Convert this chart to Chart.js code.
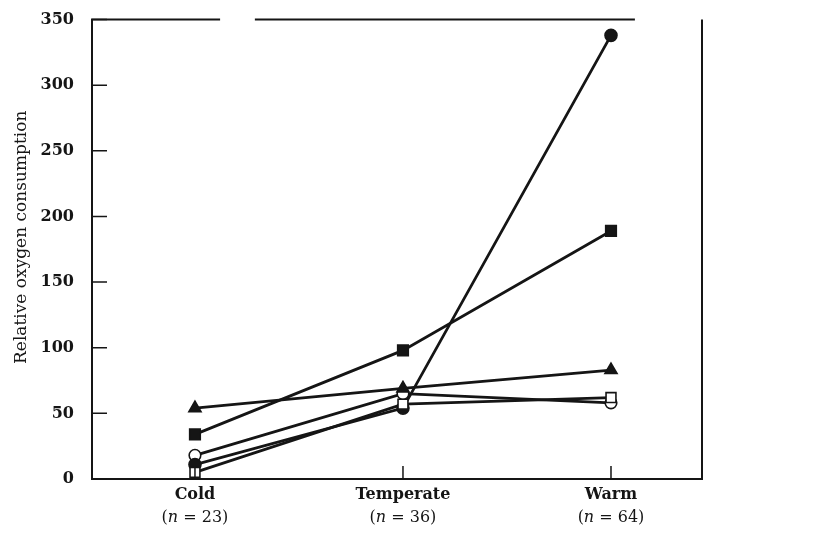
<!DOCTYPE html>
<html>
<head>
<meta charset="utf-8">
<script src="https://cdn.jsdelivr.net/npm/chart.js@4.4.1/dist/chart.umd.min.js"></script>
<style>
  html, body { margin: 0; padding: 0; background: #fff; }
  #wrap { width: 833px; height: 535px; }
</style>
</head>
<body>
<div id="wrap"><canvas id="myChart" width="833" height="535"></canvas></div>
<script>
const categories = ["Cold", "Temperate", "Warm"];
const sampleSizes = [23, 36, 64];
const yTicks = [0, 50, 100, 150, 200, 250, 300, 350];
const yTitle = "Relative oxygen consumption";

// one array per marker type, values read at Cold / Temperate / Warm
const triangleValues = [54, 69, 83];
const squareValues = [34, 98, 189];
const openCircleValues = [18, 65, 58];
const circleValues = [11, 54, 338];
const openSquareValues = [5, 57, 62];

const serif = "'DejaVu Serif', serif";
const ink = "#151515";

function toPoints(values) {
  return values.map((v, i) => ({ x: i, y: v }));
}

function series(values, style, filled, radius) {
  return {
    data: toPoints(values),
    borderColor: ink,
    borderWidth: 2.8,
    pointStyle: style,
    pointRadius: radius,
    pointBackgroundColor: filled ? ink : "#fff",
    pointBorderColor: ink,
    pointBorderWidth: 1.6,
    tension: 0,
  };
}

// frame, inward ticks, category labels and axis title
const framePlugin = {
  id: "frame",
  afterDraw(chart) {
    const { ctx, chartArea: a, scales } = chart;
    const w = a.right - a.left;
    ctx.save();
    ctx.strokeStyle = ink;
    ctx.lineWidth = 2;
    ctx.beginPath();
    ctx.moveTo(a.right, a.top);
    ctx.lineTo(a.right, a.bottom);
    ctx.lineTo(a.left, a.bottom);
    ctx.lineTo(a.left, a.top);
    // the top edge is broken in the printed figure
    ctx.lineTo(a.left + w * 0.21, a.top);
    ctx.moveTo(a.left + w * 0.267, a.top);
    ctx.lineTo(a.left + w * 0.89, a.top);
    ctx.stroke();

    ctx.lineWidth = 1.5;
    ctx.beginPath();
    yTicks.forEach((v) => {
      const y = scales.y.getPixelForValue(v);
      ctx.moveTo(a.left, y);
      ctx.lineTo(a.left + 15, y);
    });
    categories.forEach((c, i) => {
      const x = scales.x.getPixelForValue(i);
      ctx.moveTo(x, a.bottom);
      ctx.lineTo(x, a.bottom - 13);
    });
    ctx.stroke();

    ctx.fillStyle = ink;
    ctx.textBaseline = "middle";
    categories.forEach((c, i) => {
      const x = scales.x.getPixelForValue(i);
      ctx.textAlign = "center";
      ctx.font = "bold 16px " + serif;
      ctx.fillText(c, x, a.bottom + 16);

      // "(n = 23)" with an italic n
      const parts = [
        ["(", "16px " + serif],
        ["n", "italic 16px " + serif],
        [" = " + sampleSizes[i] + ")", "16px " + serif],
      ];
      let total = 0;
      parts.forEach((p) => {
        ctx.font = p[1];
        total += ctx.measureText(p[0]).width;
      });
      let cx = x - total / 2;
      ctx.textAlign = "left";
      parts.forEach((p) => {
        ctx.font = p[1];
        ctx.fillText(p[0], cx, a.bottom + 39);
        cx += ctx.measureText(p[0]).width;
      });
    });

    ctx.translate(22, (a.top + a.bottom) / 2 - 12);
    ctx.rotate(-Math.PI / 2);
    ctx.textAlign = "center";
    ctx.font = "17px " + serif;
    ctx.fillText(yTitle, 0, 0);
    ctx.restore();
  },
};

new Chart("myChart", {
  type: "line",
  data: {
    datasets: [
      series(triangleValues, "triangle", true, 7),
      series(squareValues, "rect", true, 7.5),
      series(openSquareValues, "rect", false, 7),
      series(circleValues, "circle", true, 6),
      series(openCircleValues, "circle", false, 5.8),
    ],
  },
  options: {
    responsive: false,
    animation: false,
    layout: {
      autoPadding: false,
      padding: { left: 0, right: 131, top: 17, bottom: 0 },
    },
    plugins: {
      legend: { display: false },
      tooltip: { enabled: false },
    },
    scales: {
      x: {
        type: "linear",
        min: -0.495,
        max: 2.4375,
        grid: { display: false },
        border: { display: false },
        ticks: { display: false },
        afterFit: (scale) => { scale.height = 56; },
      },
      y: {
        min: 0,
        max: 350,
        afterBuildTicks: (scale) => {
          scale.ticks = yTicks.map((v) => ({ value: v }));
        },
        grid: { display: false },
        border: { display: false },
        ticks: {
          color: ink,
          padding: 10,
          font: { family: serif, size: 16, weight: "bold" },
        },
        afterFit: (scale) => { scale.width = 92; },
      },
    },
  },
  plugins: [framePlugin],
});
</script>
</body>
</html>
